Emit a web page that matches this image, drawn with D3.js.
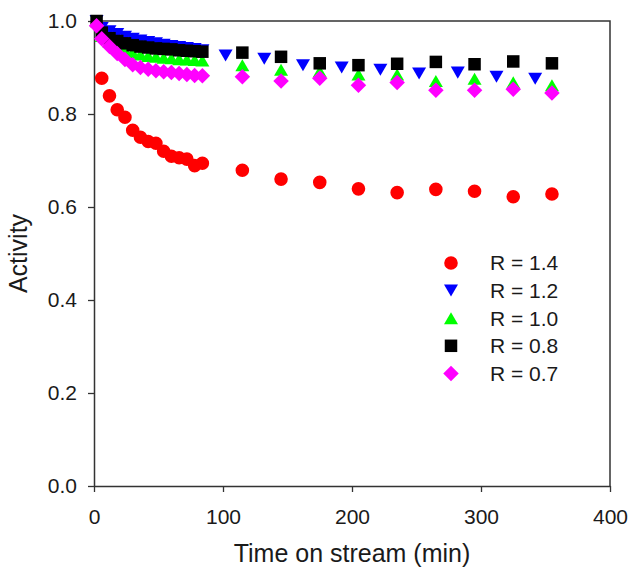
<!DOCTYPE html>
<html>
<head>
<meta charset="utf-8">
<script src="https://cdn.jsdelivr.net/npm/d3@7"></script>
<style>
  body { margin: 0; background: #fff; }
  svg text { font-family: Arial, "Liberation Sans", sans-serif; fill: #1a1a1a; }
</style>
</head>
<body>
<div id="root"></div>
<script>
// sampling times (min)
const timesR14 = [6, 12, 18, 24, 30, 36, 42, 48, 54, 60, 66, 72, 78, 84,
  115, 145, 175, 205, 235, 265, 295, 325, 355];
const timesEarly = [2, 6, 12, 18, 24, 30, 36, 42, 48, 54, 60, 66, 72, 78, 84];
const timesLate = [115, 145, 175, 205, 235, 265, 295, 325, 355];
const timesLateR12 = [102, 132, 162, 192, 222, 252, 282, 312, 342];

// activity values
const activityR14 = [0.877, 0.839, 0.809, 0.793, 0.765, 0.75, 0.741, 0.737, 0.72, 0.709,
  0.706, 0.703, 0.689, 0.694, 0.679, 0.66, 0.653, 0.639, 0.631, 0.638, 0.634, 0.622, 0.628];
const activityR12 = [1.0, 0.985, 0.978, 0.972, 0.966, 0.962, 0.958, 0.955, 0.952, 0.949,
  0.946, 0.944, 0.942, 0.94, 0.937,
  0.926, 0.919, 0.905, 0.9, 0.895, 0.887, 0.889, 0.88, 0.876];
const activityR10 = [1.0, 0.968, 0.955, 0.945, 0.938, 0.932, 0.928, 0.925, 0.923, 0.921,
  0.92, 0.918, 0.917, 0.916, 0.915,
  0.905, 0.895, 0.892, 0.885, 0.885, 0.871, 0.876, 0.868, 0.862];
const activityR08 = [1.0, 0.975, 0.963, 0.957, 0.952, 0.948, 0.945, 0.943, 0.941, 0.94,
  0.939, 0.937, 0.936, 0.935, 0.934,
  0.932, 0.923, 0.909, 0.905, 0.908, 0.912, 0.907, 0.913, 0.909];
const activityR07 = [0.99, 0.962, 0.945, 0.93, 0.917, 0.906, 0.9, 0.896, 0.893, 0.891,
  0.889, 0.887, 0.885, 0.883, 0.882,
  0.88, 0.871, 0.877, 0.862, 0.868, 0.851, 0.851, 0.853, 0.845];

const xTicks = [0, 100, 200, 300, 400];
const yTicks = [0, 0.2, 0.4, 0.6, 0.8, 1.0];

// custom marker shapes (size = nominal width squared)
const triDown = {
  draw(ctx, size) {
    const w = Math.sqrt(size) / 2, h = w * 0.86;
    ctx.moveTo(-w, -h); ctx.lineTo(w, -h); ctx.lineTo(0, h); ctx.closePath();
  }
};
const triUp = {
  draw(ctx, size) {
    const w = Math.sqrt(size) / 2, h = w * 0.86;
    ctx.moveTo(-w, h); ctx.lineTo(w, h); ctx.lineTo(0, -h); ctx.closePath();
  }
};
const square = {
  draw(ctx, size) {
    const w = Math.sqrt(size) / 2;
    ctx.rect(-w, -w, 2 * w, 2 * w);
  }
};
const diamond = {
  draw(ctx, size) {
    const w = Math.sqrt(size) / 2;
    ctx.moveTo(0, -w); ctx.lineTo(w, 0); ctx.lineTo(0, w); ctx.lineTo(-w, 0); ctx.closePath();
  }
};
const circle = {
  draw(ctx, size) {
    const r = Math.sqrt(size) / 2;
    ctx.moveTo(r, 0); ctx.arc(0, 0, r, 0, 2 * Math.PI);
  }
};

const series = [
  { name: "R = 1.4", t: timesR14, a: activityR14, color: "#ff0000", type: circle, size: 13.6 * 13.6 },
  { name: "R = 1.2", t: timesEarly.concat(timesLateR12), a: activityR12, color: "#0000ff", type: triDown, size: 14 * 14 },
  { name: "R = 1.0", t: timesEarly.concat(timesLate), a: activityR10, color: "#00ff00", type: triUp, size: 14 * 14 },
  { name: "R = 0.8", t: timesEarly.concat(timesLate), a: activityR08, color: "#000000", type: square, size: 12.5 * 12.5 },
  { name: "R = 0.7", t: timesEarly.concat(timesLate), a: activityR07, color: "#ff00ff", type: diamond, size: 15.5 * 15.5 }
];

const width = 630, height = 568;
const margin = { top: 21, right: 20, bottom: 82, left: 94 };
const innerW = width - margin.left - margin.right;
const innerH = height - margin.top - margin.bottom;

const svg = d3.select("#root").append("svg")
  .attr("width", width)
  .attr("height", height);

const g = svg.append("g")
  .attr("transform", `translate(${margin.left},${margin.top})`);

const x = d3.scaleLinear().domain([0, 400]).range([0, innerW]);
const y = d3.scaleLinear().domain([0, 1]).range([innerH, 0]);

// frame (top and right)
g.append("path")
  .attr("d", `M0,0H${innerW}V${innerH}`)
  .attr("fill", "none")
  .attr("stroke", "#333")
  .attr("stroke-width", 1.5);

const xAxis = g.append("g")
  .attr("transform", `translate(0,${innerH})`)
  .call(d3.axisBottom(x).tickValues(xTicks).tickSize(6).tickPadding(17).tickSizeOuter(0));
const yAxis = g.append("g")
  .call(d3.axisLeft(y).tickValues(yTicks).tickFormat(d3.format(".1f"))
    .tickSize(6).tickPadding(11).tickSizeOuter(0));

[xAxis, yAxis].forEach(ax => {
  ax.select(".domain").attr("stroke", "#333").attr("stroke-width", 1.5);
  ax.selectAll(".tick line").attr("stroke", "#333").attr("stroke-width", 1.3);
  ax.selectAll(".tick text").attr("font-size", 21).attr("fill", "#1a1a1a");
  ax.attr("font-family", null);
});

// axis titles
svg.append("text")
  .attr("x", margin.left + innerW / 2)
  .attr("y", 562)
  .attr("text-anchor", "middle")
  .attr("font-size", 25)
  .text("Time on stream (min)");

svg.append("text")
  .attr("transform", `translate(27,${margin.top + innerH / 2}) rotate(-90)`)
  .attr("text-anchor", "middle")
  .attr("font-size", 25)
  .text("Activity");

// markers
series.forEach(s => {
  const sym = d3.symbol().type(s.type).size(s.size);
  g.append("g").selectAll("path")
    .data(s.t.map((t, i) => [t, s.a[i]]))
    .enter()
    .append("path")
    .attr("d", sym)
    .attr("fill", s.color)
    .attr("transform", d => `translate(${x(d[0])},${y(d[1])})`);
});

// legend
const legend = svg.append("g").attr("transform", "translate(451,263)");
series.forEach((s, i) => {
  const row = legend.append("g").attr("transform", `translate(0,${i * 27.6})`);
  row.append("path")
    .attr("d", d3.symbol().type(s.type).size(s.size)())
    .attr("fill", s.color);
  row.append("text")
    .attr("x", 39)
    .attr("dy", "0.35em")
    .attr("font-size", 21)
    .text(s.name);
});
</script>
</body>
</html>
